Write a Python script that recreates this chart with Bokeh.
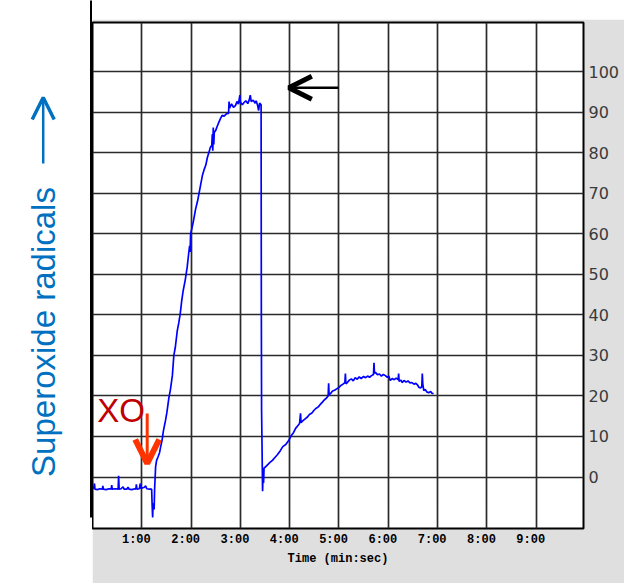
from bokeh.plotting import figure
from bokeh.layouts import row, column
from bokeh.models import FixedTicker, Label, Arrow, OpenHead, BoxAnnotation, Range1d, Spacer
from bokeh.embed import file_html
from bokeh.resources import INLINE

# ---------------- data ----------------
time_min = [
    0.02, 0.04, 0.05, 0.10, 0.15, 0.20, 0.21, 0.22, 0.28, 0.33, 0.38, 0.39, 0.40, 0.46,
    0.52, 0.53, 0.54, 0.58, 0.62, 0.64, 0.70, 0.72, 0.74, 0.80, 0.86, 0.88, 0.89, 0.90,
    0.95, 0.97, 0.98, 1.04, 1.08, 1.10, 1.16, 1.20, 1.21, 1.22, 1.23, 1.25, 1.26, 1.28,
    1.30, 1.33, 1.36, 1.38, 1.41, 1.44, 1.48, 1.51, 1.55, 1.58, 1.62, 1.65, 1.68, 1.72,
    1.75, 1.78, 1.81, 1.84, 1.88, 1.92, 1.95, 1.97, 1.98, 1.99, 2.02, 2.05, 2.09, 2.13,
    2.16, 2.20, 2.23, 2.27, 2.30, 2.33, 2.36, 2.39, 2.42, 2.43, 2.44, 2.45, 2.46, 2.47,
    2.50, 2.53, 2.56, 2.60, 2.63, 2.67, 2.72, 2.76, 2.77, 2.78, 2.82, 2.86, 2.90, 2.93,
    2.96, 2.99, 3.00, 3.04, 3.07, 3.11, 3.15, 3.18, 3.20, 3.22, 3.26, 3.30, 3.32, 3.35,
    3.37, 3.39, 3.42, 3.425, 3.43, 3.45, 3.46, 3.47, 3.48, 3.50, 3.55, 3.60, 3.65, 3.70,
    3.75, 3.81, 3.86, 3.92, 3.98, 4.03, 4.08, 4.12, 4.16, 4.20, 4.22, 4.23, 4.27, 4.32,
    4.36, 4.40, 4.45, 4.49, 4.53, 4.58, 4.62, 4.66, 4.70, 4.74, 4.78, 4.79, 4.80, 4.83,
    4.87, 4.91, 4.96, 5.00, 5.04, 5.08, 5.12, 5.13, 5.14, 5.17, 5.21, 5.25, 5.29, 5.33,
    5.37, 5.41, 5.45, 5.50, 5.54, 5.58, 5.62, 5.66, 5.70, 5.71, 5.72, 5.74, 5.78, 5.82,
    5.86, 5.90, 5.94, 5.98, 6.01, 6.04, 6.08, 6.12, 6.16, 6.20, 6.21, 6.22, 6.26, 6.28,
    6.32, 6.36, 6.40, 6.44, 6.48, 6.52, 6.56, 6.60, 6.62, 6.66, 6.68, 6.69, 6.70, 6.72,
    6.75, 6.78, 6.82, 6.86, 6.89, 6.92,
]
superoxide = [
    -3.0, -1.6, -3.0, -3.1, -2.9, -3.0, -2.2, -3.0, -3.1, -2.9, -3.0, -2.0, -3.0, -2.9,
    -3.0, 0.3, -3.0, -2.9, -2.4, -3.0, -3.0, -2.5, -3.0, -3.1, -2.9, -3.0, -1.8, -3.0,
    -2.9, -1.6, -2.8, -2.6, -2.2, -2.9, -3.0, -3.0, -7.0, -10.0, -6.5, -8.0, -3.0, 2.5,
    4.1, 5.0, 6.0, 7.3, 9.0, 11.5, 13.9, 16.0, 19.6, 21.5, 25.0, 30.0, 32.0, 36.1,
    38.0, 40.3, 43.5, 46.0, 48.5, 51.7, 55.0, 57.0, 55.5, 60.0, 61.5, 63.3, 66.0, 68.0,
    69.9, 72.5, 74.4, 76.0, 77.0, 78.8, 80.0, 81.3, 81.8, 84.5, 80.5, 86.2, 82.0, 85.0,
    85.5, 86.5, 87.4, 88.5, 89.2, 89.0, 89.6, 89.7, 92.6, 91.0, 92.0, 91.2, 91.6, 92.6,
    92.0, 94.2, 92.4, 91.8, 92.3, 92.8, 92.1, 93.0, 94.2, 92.6, 92.9, 92.2, 92.8, 91.6,
    90.4, 92.2, 91.8, 40.0, 16.4, -3.5, 1.0, -1.5, 2.2, 2.4, 3.0, 3.6, 4.1, 4.8,
    5.5, 6.5, 7.5, 8.0, 9.0, 10.2, 11.0, 12.0, 12.6, 13.2, 15.7, 13.4, 13.9, 14.4,
    14.8, 15.4, 15.8, 16.4, 16.9, 17.3, 17.9, 18.4, 19.0, 19.4, 20.0, 23.1, 20.3, 20.6,
    21.2, 21.4, 21.8, 22.1, 22.6, 22.9, 23.3, 25.5, 23.0, 23.3, 23.9, 24.2, 23.7, 24.5,
    24.1, 24.7, 24.3, 24.8, 24.5, 24.9, 24.6, 25.0, 25.3, 28.2, 25.6, 25.8, 25.2, 25.4,
    24.9, 25.3, 25.0, 24.6, 24.9, 23.8, 24.3, 24.0, 24.4, 24.0, 25.5, 23.6, 23.9, 23.3,
    23.8, 23.4, 23.7, 23.2, 23.3, 22.9, 23.1, 22.6, 22.1, 22.0, 22.3, 25.5, 23.0, 21.3,
    21.6, 21.0, 20.8, 21.1, 20.6, 20.6,
]
x_tick_minutes = [1, 2, 3, 4, 5, 6, 7, 8, 9]
x_tick_labels = ["1:00", "2:00", "3:00", "4:00", "5:00", "6:00", "7:00", "8:00", "9:00"]
y_ticks = [0, 10, 20, 30, 40, 50, 60, 70, 80, 90, 100]

# ---------------- layout (page pixels) ----------------
PAGE_W, PAGE_H = 624, 583
LEFT_W = 92          # white strip on the left with the y label
TOP_H = 19           # white strip above the grey panel
FL, FR, FT, FB = 92, 583, 22, 528   # plot frame in page pixels
XS, XE = 0.0, 9.96
YS, YE = -12.7, 112.1


def dx(px):
    return XS + (px - FL) * (XE - XS) / (FR - FL)


def dy(py):
    return YE - (py - FT) * (YE - YS) / (FB - FT)


# ---- left panel: y label, blue arrow, black vertical line ----
left = figure(width=LEFT_W, height=PAGE_H, x_range=Range1d(0, LEFT_W), y_range=Range1d(0, PAGE_H),
              output_backend="svg", toolbar_location=None, x_axis_location=None,
              y_axis_location=None, min_border=0, outline_line_color=None,
              background_fill_color="white", border_fill_color="white")
left.grid.visible = False


def ly(py):
    return PAGE_H - py


left.add_layout(BoxAnnotation(left=89.5, right=91.5, top=ly(-5), bottom=ly(517),
                              fill_color="black", fill_alpha=1, line_color=None))
left.add_layout(Label(x=43, y=ly(331.5), text="Superoxide radicals", angle=90, angle_units="deg",
                      text_align="center", text_baseline="alphabetic", text_font="Liberation Sans",
                      text_font_size="33px", text_color="#0070c0"))
left.add_layout(Arrow(x_start=42.7, y_start=ly(163), x_end=42.7, y_end=ly(97),
                      line_color="#0070c0", line_width=2.5,
                      end=OpenHead(size=22, line_width=3.5, line_color="#0070c0")))

# ---- main chart ----
MW = PAGE_W - LEFT_W
MH = PAGE_H - TOP_H
p = figure(width=MW, height=MH, x_range=Range1d(XS, XE), y_range=Range1d(YS, YE),
           output_backend="svg", toolbar_location=None, y_axis_location="right",
           min_border_left=0, min_border_right=PAGE_W - FR, min_border_top=FT - TOP_H,
           min_border_bottom=PAGE_H - FB, background_fill_color="white",
           border_fill_color="#dfdfdf", outline_line_color="black", outline_line_width=2)

p.xgrid.ticker = FixedTicker(ticks=x_tick_minutes)
p.ygrid.ticker = FixedTicker(ticks=y_ticks)
p.grid.grid_line_color = "#2a2a2a"
p.grid.grid_line_width = 1.7
p.grid.grid_line_alpha = 1

shift = 0.11
shifted = [round(m - shift, 2) for m in x_tick_minutes]
p.xaxis.ticker = FixedTicker(ticks=shifted)
p.xaxis.major_label_overrides = {s: l for s, l in zip(shifted, x_tick_labels)}
p.xaxis.axis_label = "Time (min:sec)"
p.xaxis.axis_label_text_font = "Liberation Mono"
p.xaxis.axis_label_text_font_style = "bold"
p.xaxis.axis_label_text_font_size = "12px"
p.xaxis.axis_label_text_color = "black"
p.xaxis.axis_label_standoff = 2
p.xaxis.major_label_text_font = "Liberation Mono"
p.xaxis.major_label_text_font_style = "bold"
p.xaxis.major_label_text_font_size = "12px"
p.xaxis.major_label_text_color = "black"
p.xaxis.major_label_standoff = 4

p.yaxis.ticker = FixedTicker(ticks=y_ticks)
p.yaxis.major_label_text_font = "DejaVu Sans"
p.yaxis.major_label_text_font_size = "16px"
p.yaxis.major_label_text_color = "#3a3a3a"
p.yaxis.major_label_standoff = 5

for ax in (p.xaxis, p.yaxis):
    ax.axis_line_color = None
    ax.major_tick_line_color = None
    ax.minor_tick_line_color = None
    ax.major_tick_out = 0
    ax.major_tick_in = 0
    ax.minor_tick_out = 0
    ax.minor_tick_in = 0

p.line(time_min, superoxide, line_color="#0000ff", line_width=1.7)

# XO annotation
p.add_layout(Label(x=dx(96.7), y=dy(410), text="XO", text_align="left", text_baseline="alphabetic",
                   text_font="Liberation Sans", text_font_size="33px", text_color="#c00000"))
p.add_layout(Arrow(x_start=dx(146.7), y_start=dy(413), x_end=dx(146.7), y_end=dy(463),
                   line_color="#ff3300", line_width=3,
                   end=OpenHead(size=24, line_width=6, line_color="#ff3300")))

# black arrow near the plateau
p.add_layout(Arrow(x_start=dx(338), y_start=dy(87.3), x_end=dx(288.3), y_end=dy(87.3),
                   line_color="black", line_width=2.5,
                   end=OpenHead(size=23, line_width=5, line_color="black")))

top = Spacer(width=MW, height=TOP_H)
layout = row(left, column(top, p, spacing=0), spacing=0)

open("out.html", "w").write(file_html(layout, INLINE))
